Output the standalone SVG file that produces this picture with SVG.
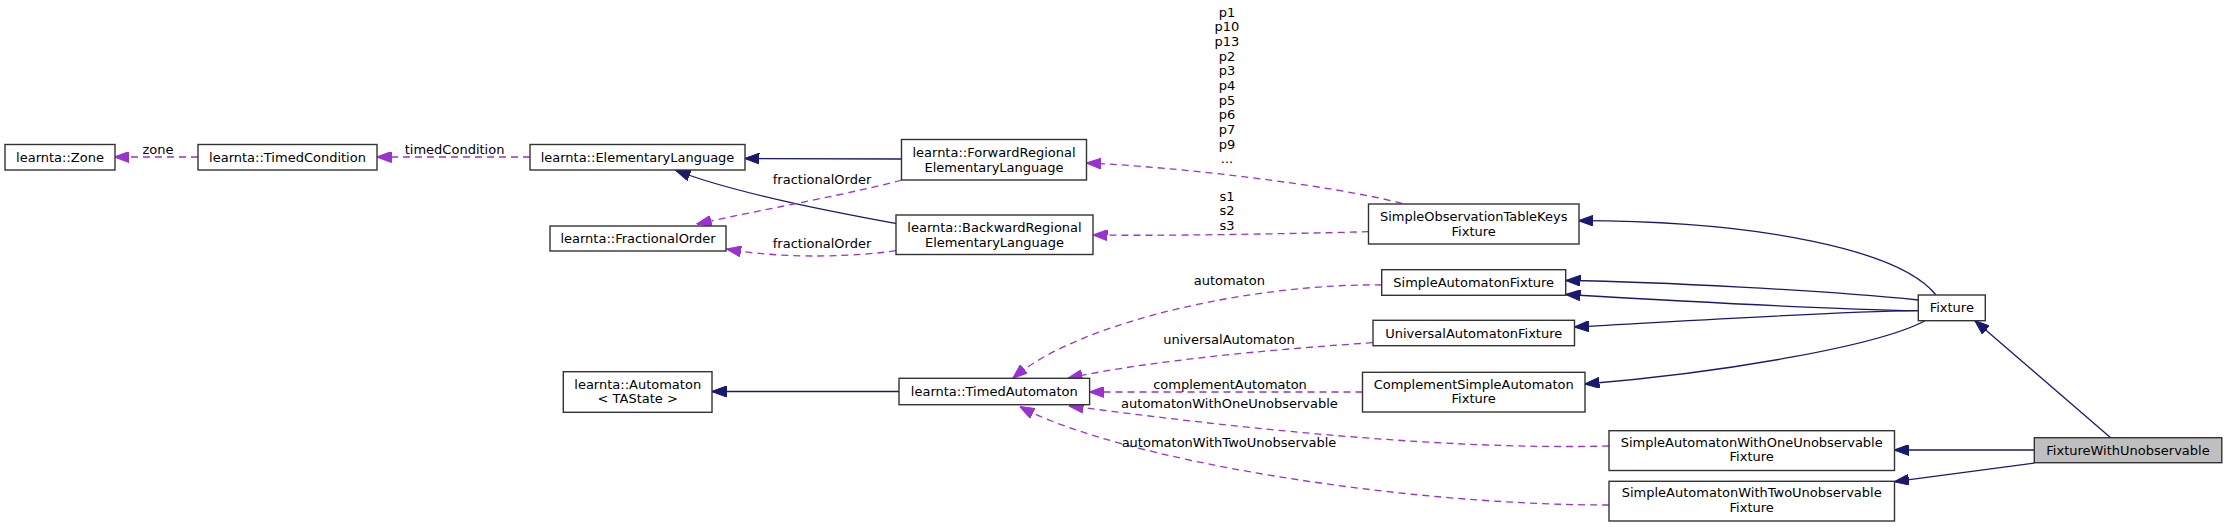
<svg xmlns="http://www.w3.org/2000/svg" width="2227" height="527" viewBox="0 0 2227 527">
<defs>
<marker id="ab" markerUnits="userSpaceOnUse" markerWidth="15" markerHeight="11" viewBox="0 0 15 11" refX="14.5" refY="5.5" orient="auto"><path d="M0,0 L15,5.5 L0,11 z" fill="#191970" stroke="#191970" stroke-width="1"/></marker>
<marker id="ap" markerUnits="userSpaceOnUse" markerWidth="15" markerHeight="11" viewBox="0 0 15 11" refX="14.5" refY="5.5" orient="auto"><path d="M0,0 L15,5.5 L0,11 z" fill="#9a32cd" stroke="#9a32cd" stroke-width="1"/></marker>
<style>
text{font-family:"DejaVu Sans","Liberation Sans",sans-serif;font-size:13px;fill:#000;text-anchor:middle}
.n rect{fill:#fff;stroke:#333;stroke-width:1.4}
.n.sel rect{fill:#bfbfbf}
.inh{fill:none;stroke:#191970;stroke-width:1.3;marker-end:url(#ab)}
.use{fill:none;stroke:#9a32cd;stroke-width:1.3;stroke-dasharray:7,5;marker-end:url(#ap)}
</style>
</defs>
<rect width="2227" height="527" fill="#fff"/>
<g id="connectors">
<path class="inh" d="M901.5,159 L745,158.5"/>
<path class="inh" d="M896,223.5 C850,215 740,195 676,170.5"/>
<path class="inh" d="M899,391.5 L712,391.5"/>
<path class="inh" d="M1936,295 C1900,250 1760,221 1579,220.7"/>
<path class="inh" d="M1918.3,300 C1820,290 1660,282 1566,280.5"/>
<path class="inh" d="M1918.3,310.7 C1820,309 1660,300 1566,294.5"/>
<path class="inh" d="M1918.3,310.7 C1820,312 1670,322 1574.5,327"/>
<path class="inh" d="M1925,320.7 C1880,345 1730,372 1585,384"/>
<path class="inh" d="M2110.7,437.7 L1975,320.7"/>
<path class="inh" d="M2034.3,450 L1894.5,450"/>
<path class="inh" d="M2034.3,463 L1894.5,481.7"/>
<path class="use" d="M198,157 L114.6,157"/>
<path class="use" d="M530,157 L377,157"/>
<path class="use" d="M901.5,180 C860,192 760,210 697,224"/>
<path class="use" d="M896,250.7 C860,256 790,260 726.7,249"/>
<path class="use" d="M1402,203.3 C1330,185 1180,167 1086.7,163"/>
<path class="use" d="M1368.5,231.7 C1280,234 1160,236 1093,235"/>
<path class="use" d="M1381.7,285 C1260,283 1080,320 1013,378.3"/>
<path class="use" d="M1372.7,342.7 C1290,348 1150,360 1068,378.3"/>
<path class="use" d="M1362.5,392 L1089.6,392"/>
<path class="use" d="M1609,446 C1450,450 1250,430 1069,405.7"/>
<path class="use" d="M1609,505 C1400,505 1120,460 1020,406.7"/>
<text x="158" y="153.5">zone</text>
<text x="454.6" y="153.5">timedCondition</text>
<text x="822" y="183.8">fractionalOrder</text>
<text x="822" y="248">fractionalOrder</text>
<text x="1227" y="16.5">p1</text>
<text x="1227" y="31.2">p10</text>
<text x="1227" y="45.8">p13</text>
<text x="1227" y="60.5">p2</text>
<text x="1227" y="75.2">p3</text>
<text x="1227" y="89.8">p4</text>
<text x="1227" y="104.5">p5</text>
<text x="1227" y="119.2">p6</text>
<text x="1227" y="133.8">p7</text>
<text x="1227" y="148.5">p9</text>
<text x="1227" y="163.2">...</text>
<text x="1227" y="200.5">s1</text>
<text x="1227" y="215">s2</text>
<text x="1227" y="229.5">s3</text>
<text x="1229.3" y="284.5">automaton</text>
<text x="1229" y="343.5">universalAutomaton</text>
<text x="1230" y="388.5">complementAutomaton</text>
<text x="1229.5" y="407.8">automatonWithOneUnobservable</text>
<text x="1229" y="446.8">automatonWithTwoUnobservable</text>
</g>
<g id="zone" class="n"><rect x="5" y="144.5" width="110" height="25.5"/><text x="60" y="161.7">learnta::Zone</text></g>
<g id="timedcondition" class="n"><rect x="198" y="144.5" width="179" height="25.5"/><text x="287.5" y="161.7">learnta::TimedCondition</text></g>
<g id="elementarylanguage" class="n"><rect x="530" y="144.5" width="215" height="25.5"/><text x="637.5" y="161.7">learnta::ElementaryLanguage</text></g>
<g id="forwardregional" class="n"><rect x="901.5" y="139.5" width="185" height="40.5"/><text x="994" y="157">learnta::ForwardRegional</text><text x="994" y="171.5">ElementaryLanguage</text></g>
<g id="fractionalorder" class="n"><rect x="550" y="226" width="176" height="25"/><text x="638" y="243">learnta::FractionalOrder</text></g>
<g id="backwardregional" class="n"><rect x="896" y="215" width="197" height="39.5"/><text x="994.5" y="231.9">learnta::BackwardRegional</text><text x="994.5" y="246.5">ElementaryLanguage</text></g>
<g id="sotk" class="n"><rect x="1368.5" y="204" width="210.5" height="40"/><text x="1473.7" y="220.8">SimpleObservationTableKeys</text><text x="1473.7" y="235.5">Fixture</text></g>
<g id="saf" class="n"><rect x="1381.7" y="269.7" width="184" height="25.6"/><text x="1473.7" y="287">SimpleAutomatonFixture</text></g>
<g id="uaf" class="n"><rect x="1373" y="320.3" width="201.5" height="25.4"/><text x="1473.7" y="337.5">UniversalAutomatonFixture</text></g>
<g id="automaton" class="n"><rect x="563.3" y="371.7" width="148.7" height="40.6"/><text x="637.7" y="388.6">learnta::Automaton</text><text x="637.7" y="403">&lt; TAState &gt;</text></g>
<g id="timedautomaton" class="n"><rect x="899" y="378.3" width="190.6" height="26.4"/><text x="994.3" y="396">learnta::TimedAutomaton</text></g>
<g id="complement" class="n"><rect x="1362.5" y="372.3" width="222.5" height="39.7"/><text x="1473.7" y="388.6">ComplementSimpleAutomaton</text><text x="1473.7" y="403">Fixture</text></g>
<g id="fixture" class="n"><rect x="1918.3" y="295" width="67" height="25.7"/><text x="1951.8" y="312.4">Fixture</text></g>
<g id="sawone" class="n"><rect x="1609" y="430.7" width="285.5" height="39.8"/><text x="1751.7" y="447">SimpleAutomatonWithOneUnobservable</text><text x="1751.7" y="461.4">Fixture</text></g>
<g id="sawtwo" class="n"><rect x="1609" y="481.3" width="285.5" height="39.7"/><text x="1751.7" y="497.4">SimpleAutomatonWithTwoUnobservable</text><text x="1751.7" y="511.8">Fixture</text></g>
<g id="fwu" class="n sel"><rect x="2034.3" y="437.7" width="187.5" height="25"/><text x="2128" y="454.7">FixtureWithUnobservable</text></g>
</svg>
